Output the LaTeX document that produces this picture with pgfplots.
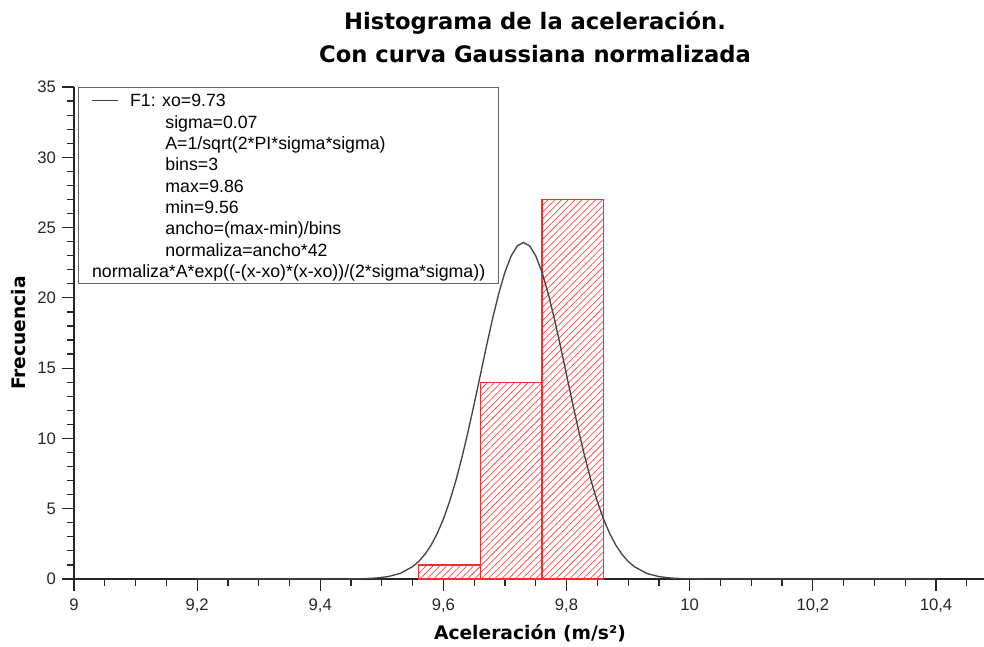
\documentclass[border=0pt]{standalone}
\usepackage{fontspec}
\setmainfont{Liberation Sans}
\newfontfamily\headfont{DejaVu Sans}
\usepackage{pgfplots}
\pgfplotsset{compat=1.18}
\usetikzlibrary{patterns.meta}
\definecolor{curvegray}{HTML}{444444}
\definecolor{barred}{HTML}{FF2A2A}
\definecolor{hatchred}{HTML}{FF4A4A}
\definecolor{legendgray}{HTML}{666666}

\begin{document}
\begin{tikzpicture}
\begin{axis}[
    at={(0,0)}, anchor=south west,
    scale only axis,
    width=682.5pt, height=369pt,
    xmin=9, xmax=10.478,
    ymin=0, ymax=35,
    axis lines*=left,
    axis line style={black!85, line width=0.9pt},
    tick align=outside,
    major tick length=9pt,
    minor tick length=5pt,
    tick style={black!85, line width=0.9pt},
    xtick={9,9.2,9.4,9.6,9.8,10,10.2,10.4},
    minor xtick={9.05,9.1,9.15,9.25,9.3,9.35,9.45,9.5,9.55,9.65,9.7,9.75,9.85,9.9,9.95,10.05,10.1,10.15,10.25,10.3,10.35,10.45},
    ytick={0,5,...,35},
    minor y tick num=4,
    /pgf/number format/use comma,
    /pgf/number format/assume math mode=true,
    ticklabel style={font=\fontsize{12.5}{14}\selectfont, text=black!85},
    xticklabel style={yshift=-2pt},
    yticklabel style={xshift=-1pt},
    xlabel={Aceleración (m/s²)},
    ylabel={Frecuencia},
    label style={font=\headfont\bfseries\fontsize{14}{16}\selectfont},
    xlabel style={at={(axis description cs:0.501,-0.1098)}, anchor=center},
    ylabel style={at={(axis description cs:-0.0615,0.5)}, anchor=center},
    title={Histograma de la aceleración.\\Con curva Gaussiana normalizada},
    title style={at={(axis description cs:0.5066,1)}, anchor=south, align=center,
        font=\headfont\bfseries\fontsize{17}{24.75}\selectfont, inner sep=0pt, yshift=12pt},
    legend style={at={(axis description cs:0.0044,1)}, anchor=north west,
        draw=legendgray, line width=1.1pt, fill=white,
        inner xsep=8pt, inner ysep=1pt,
        font=\fontsize{13.3}{16}\selectfont},
    legend image code/.code={},
]
% histogram, bins of width 0.1 from 9.56 to 9.86
\addplot[ybar interval, draw=barred, line width=0.9pt,
    pattern={Lines[angle=45, distance=3.6pt, line width=0.55pt]}, pattern color=hatchred,
    forget plot]
    coordinates {(9.56,1) (9.66,14) (9.76,27) (9.86,27)};
% normalised Gaussian curve
\addplot[curvegray, line width=1pt] coordinates {
    (9.20,0) (9.30,0) (9.40,0) (9.43,0.003) (9.45,0.008) (9.47,0.024) (9.49,0.067)
    (9.51,0.17) (9.53,0.40) (9.55,0.88) (9.56,1.25) (9.57,1.76) (9.58,2.41)
    (9.59,3.24) (9.60,4.27) (9.61,5.51) (9.62,6.96) (9.63,8.63) (9.64,10.48)
    (9.65,12.46) (9.66,14.52) (9.67,16.58) (9.68,18.55) (9.69,20.33) (9.70,21.84)
    (9.71,22.98) (9.72,23.70) (9.73,23.94) (9.74,23.70) (9.75,22.98) (9.76,21.84)
    (9.77,20.33) (9.78,18.55) (9.79,16.58) (9.80,14.52) (9.81,12.46) (9.82,10.48)
    (9.83,8.63) (9.84,6.96) (9.85,5.51) (9.86,4.27) (9.87,3.24) (9.88,2.41)
    (9.89,1.76) (9.90,1.25) (9.91,0.88) (9.93,0.40) (9.95,0.17) (9.97,0.067)
    (9.99,0.024) (10.01,0.008) (10.03,0.003) (10.1,0) (10.2,0) (10.3,0) (10.4,0)
};
\addlegendentry{\begin{tabular}[b]{@{}l@{}}
\textcolor{curvegray}{\rule[4.3pt]{19.5pt}{0.9pt}}\hspace{9pt}F1: xo=9.73\\
\hspace{55pt}sigma=0.07\\
\hspace{55pt}A=1/sqrt(2*PI*sigma*sigma)\\
\hspace{55pt}bins=3\\
\hspace{55pt}max=9.86\\
\hspace{55pt}min=9.56\\
\hspace{55pt}ancho=(max-min)/bins\\
\hspace{55pt}normaliza=ancho*42\\
normaliza*A*exp((-(x-xo)*(x-xo))/(2*sigma*sigma))
\end{tabular}}
\end{axis}
\pgfresetboundingbox
\useasboundingbox (-55.5pt,-50.25pt) rectangle (682.5pt,434.25pt);
\end{tikzpicture}
\end{document}
